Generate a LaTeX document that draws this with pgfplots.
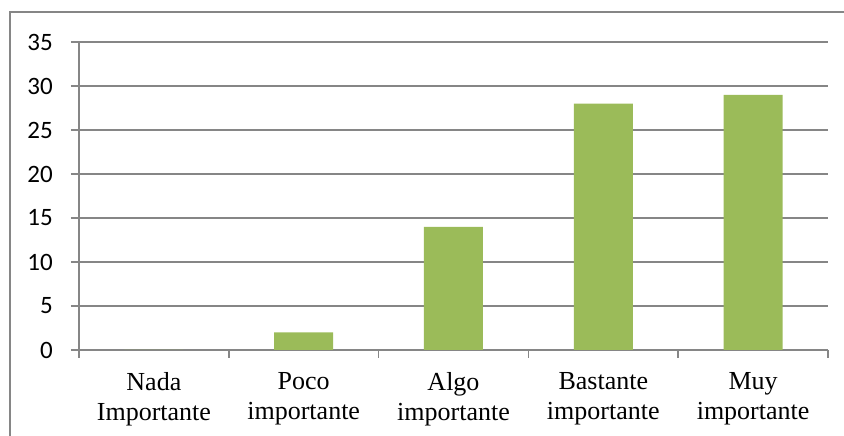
\documentclass[border=0pt]{standalone}
\usepackage{pgfplots}
\pgfplotsset{compat=1.18}
\usepackage{fontspec}
\setmainfont{Liberation Serif}
\newfontfamily\calibri{Carlito}
\definecolor{bargreen}{RGB}{155,187,89}
\definecolor{gridgray}{RGB}{134,134,134}
\begin{document}
\begin{tikzpicture}
\useasboundingbox (-79pt,-86pt) rectangle (765pt,350pt);
\begin{scope}
\clip (-79pt,-86pt) rectangle (765pt,350pt);
\draw[gridgray, line width=1.5pt] (-69pt,-120pt) rectangle (800pt,338pt);
\end{scope}
\begin{axis}[
  at={(0,0)}, anchor=south west,
  scale only axis, width=749pt, height=308pt,
  xmin=-0.5, xmax=4.5, ymin=0, ymax=35,
  axis x line=bottom, axis y line=left,
  axis line style={gridgray, line width=1.5pt, -},
  ytick={0,5,...,35},
  xtick={0,...,4},
  xticklabels={Nada\\Importante, Poco\\importante, Algo\\importante, Bastante\\importante, Muy\\importante},
  minor xtick={-0.5,0.5,...,4.5},
  tick align=outside,
  major tick length=8pt, minor tick length=8pt,
  xtick style={draw=none},
  minor x tick style={draw=gridgray, line width=1.5pt},
  ytick style={draw=gridgray, line width=1.5pt},
  ymajorgrids,
  major grid style={gridgray, line width=1.5pt},
  yticklabel style={font=\calibri\fontsize{25}{30}\selectfont, anchor=east, inner sep=0pt, xshift=-18pt},
  /pgf/number format/assume math mode=true,
  xticklabel style={font=\fontsize{26}{30}\selectfont, align=center, anchor=north, inner sep=0pt, yshift=-14pt},
  ybar, bar width=59pt,
]
\addplot[fill=bargreen, draw=none] coordinates {(0,0) (1,2) (2,14) (3,28) (4,29)};
\end{axis}
\end{tikzpicture}
\end{document}
